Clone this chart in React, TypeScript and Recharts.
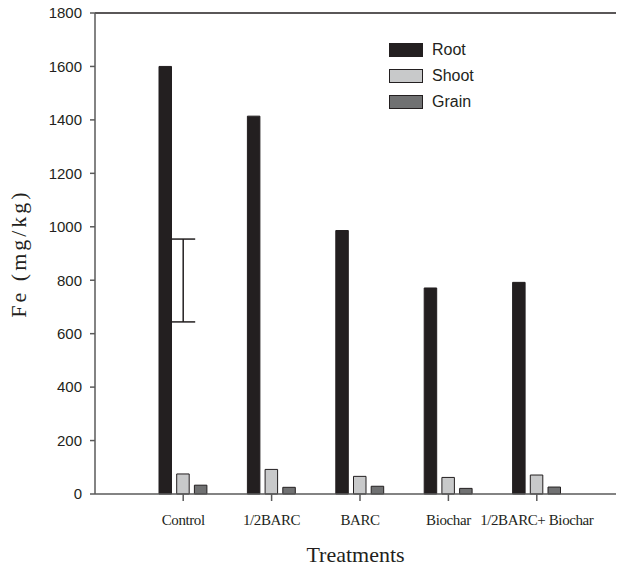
import React from 'react';
import { ComposedChart, Bar, Line, XAxis, YAxis, ErrorBar, ReferenceLine } from 'recharts';

// Fe concentration per plant part across treatments
const treatments = ['Control', '1/2BARC', 'BARC', 'Biochar', '1/2BARC+ Biochar'];
const root = [1600, 1414, 986, 771, 792];
const shoot = [75, 92, 66, 62, 71];
const grain = [33, 25, 29, 21, 26];
// single error bar drawn over the Control group
const errMid = [799, null, null, null, null];
const errSpan = [155, 0, 0, 0, 0];
const yTicks = [0, 200, 400, 600, 800, 1000, 1200, 1400, 1600, 1800];

const series = [
  { key: 'root', name: 'Root', fill: '#231f20' },
  { key: 'shoot', name: 'Shoot', fill: '#c8c9ca' },
  { key: 'grain', name: 'Grain', fill: '#707172' },
];

const rows = treatments.map((t, i) => ({
  t, root: root[i], shoot: shoot[i], grain: grain[i], mid: errMid[i], err: errSpan[i],
}));

const INK = '#231f20';
const AXIS = '#5a5a5a';
const SANS = '"Liberation Sans", Arial, sans-serif';
const SERIF = '"Liberation Serif", "Times New Roman", serif';

// legend sits outside the chart so it doesn't eat into the plot offset
function LegendBox() {
  return (
    <div style={{ position: 'absolute', left: 389, top: 37, fontFamily: SANS, fontSize: 16, color: INK }}>
      {series.map((s) => (
        <div key={s.key} style={{ display: 'flex', alignItems: 'center', height: 26 }}>
          <span style={{ display: 'inline-block', width: 32, height: 12, background: s.fill, border: `1px solid ${INK}`, marginRight: 9 }} />
          <span>{s.name}</span>
        </div>
      ))}
    </div>
  );
}

export default function App() {
  return (
    <div style={{ position: 'absolute', left: 0, top: 0, width: 617, height: 569, background: '#fff' }}>
      <ComposedChart width={617} height={569} data={rows} margin={{ top: 13, right: 1, bottom: 0, left: 0 }}
        barSize={12.5} barGap={5.2}>
        <XAxis dataKey="t" height={75} padding={{ left: 44, right: 35 }} interval={0}
          axisLine={{ stroke: AXIS, strokeWidth: 1.5 }} tickLine={{ stroke: AXIS, strokeWidth: 1.5 }}
          tickSize={7} tickMargin={13}
          tick={{ fontFamily: SERIF, fontSize: 15, fill: INK, letterSpacing: -0.4 }}
          label={{ value: 'Treatments', position: 'insideBottom', offset: 7, fontFamily: SERIF, fontSize: 22, fill: INK }} />
        <YAxis width={95} domain={[0, 1800]} ticks={yTicks} interval={0}
          axisLine={{ stroke: AXIS, strokeWidth: 1.5 }} tickLine={{ stroke: AXIS, strokeWidth: 1.5 }}
          tickSize={5} tickMargin={8}
          tick={{ fontFamily: SANS, fontSize: 15, fill: INK }}
          label={{ value: 'Fe (mg/kg)', angle: -90, position: 'insideLeft', offset: 18, fontFamily: SERIF, fontSize: 22, fill: INK, letterSpacing: 3, style: { textAnchor: 'middle' } }} />
        <ReferenceLine y={1800} stroke={INK} strokeWidth={1.5} />
        {series.map((s) => (
          <Bar key={s.key} dataKey={s.key} name={s.name} fill={s.fill} stroke={INK} strokeWidth={1} isAnimationActive={false} />
        ))}
        <Line dataKey="mid" stroke="none" dot={false} activeDot={false} legendType="none" isAnimationActive={false}>
          <ErrorBar dataKey="err" width={12} stroke={INK} strokeWidth={1.5} direction="y" />
        </Line>
      </ComposedChart>
      <LegendBox />
    </div>
  );
}
